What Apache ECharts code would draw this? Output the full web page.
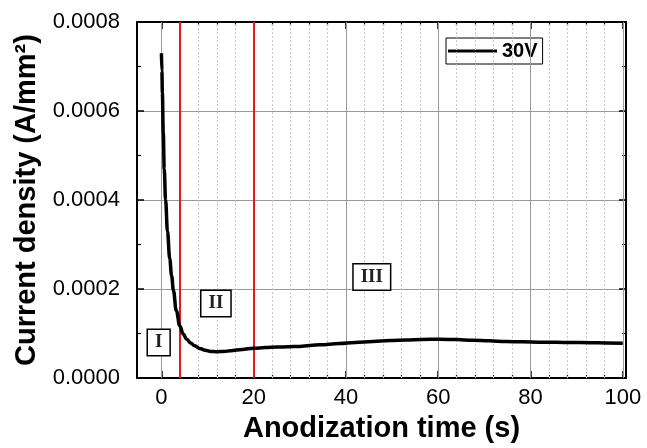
<!DOCTYPE html>
<html>
<head>
<meta charset="utf-8">
<script src="https://cdn.jsdelivr.net/npm/echarts@6/dist/echarts.min.js"></script>
<style>
html,body{margin:0;padding:0;background:#fff;}
#chart{width:647px;height:448px;}
</style>
</head>
<body>
<div id="chart"></div>
<script>
// ---- data ----
const seriesName = '30V';
const timeS = [0, 0.1, 0.2, 0.4, 0.6, 0.9, 1.3, 1.8, 2.2, 2.6, 3.2, 4.0, 4.7, 5.5, 6.3, 7.2, 8.3, 9.5, 10.7, 12, 13.5, 15, 17.5, 20, 22.5, 25, 27.5, 30, 34.3, 38.6, 42, 45.8, 49.5, 53, 56.5, 60.3, 64, 67.5, 71, 74.7, 78.3, 81.9, 85.5, 89.1, 92.7, 96.4, 100];
const currentDensity = [0.00073, 0.00069, 0.00064, 0.00055, 0.00047, 0.00040, 0.00033, 0.000268, 0.00023, 0.000197, 0.000152, 0.000117, 0.000099, 0.000087, 0.000079, 0.0000725, 0.0000665, 0.0000625, 0.0000600, 0.0000592, 0.0000598, 0.0000615, 0.0000645, 0.0000670, 0.0000685, 0.0000697, 0.0000705, 0.0000712, 0.0000748, 0.0000778, 0.0000800, 0.0000822, 0.0000842, 0.0000858, 0.0000868, 0.0000874, 0.0000865, 0.0000852, 0.0000838, 0.0000823, 0.0000815, 0.0000808, 0.0000803, 0.0000800, 0.0000795, 0.0000788, 0.0000782];
const xMajorTicks = [0, 20, 40, 60, 80, 100];
const xMinorTicks = [4, 8, 12, 16, 24, 28, 32, 36, 44, 48, 52, 56, 64, 68, 72, 76, 84, 88, 92, 96];
const regionBoundaries = [4, 20];
const regionLabels = ['I', 'II', 'III'];
const regionLabelX = [-0.6, 11.8, 45.6];
const regionLabelY = [0.0000800, 0.0001676, 0.000227];
const xTitle = 'Anodization time (s)';
const yTitle = 'Current density (A/mm\u00B2)';

// ---- chart ----
const chart = echarts.init(document.getElementById('chart'), null, {renderer: 'canvas'});
const FONT = 'Liberation Sans, Arial, sans-serif';
const gridBox = {left: 137, right: 21, top: 22, bottom: 69};

const xCommon = {
  type: 'value', min: -5.3, max: 100.7,
  splitLine: {show: false}
};

const option = {
  backgroundColor: '#fff',
  animation: false,
  grid: [
    Object.assign({}, gridBox, {show: false}),
    Object.assign({}, gridBox, {show: false})
  ],
  legend: {
    data: [seriesName],
    left: 446, top: 38,
    icon: 'rect', itemWidth: 49, itemHeight: 3,
    borderColor: '#000', borderWidth: 1,
    padding: [3, 5, 3, 2],
    textStyle: {fontFamily: FONT, fontWeight: 'bold', fontSize: 20, color: '#000'},
    itemStyle: {color: '#000'}
  },
  xAxis: [
    Object.assign({}, xCommon, {
      gridIndex: 0, position: 'bottom',
      name: xTitle, nameLocation: 'middle', nameGap: 33,
      nameTextStyle: {fontFamily: FONT, fontWeight: 'bold', fontSize: 29, color: '#000'},
      axisLine: {show: true, onZero: false, lineStyle: {color: '#000', width: 2}},
      axisTick: {show: true, inside: true, length: 7, customValues: xMajorTicks, lineStyle: {color: '#000', width: 1.5}},
      axisLabel: {show: true, margin: 9, customValues: xMajorTicks, fontFamily: FONT, fontSize: 22, color: '#000'}
    }),
    Object.assign({}, xCommon, {
      gridIndex: 0, position: 'top',
      axisLine: {show: true, onZero: false, lineStyle: {color: '#000', width: 2}},
      axisTick: {show: true, inside: true, length: 7, customValues: xMajorTicks, lineStyle: {color: '#000', width: 1.5}},
      axisLabel: {show: false}
    }),
    Object.assign({}, xCommon, {
      gridIndex: 1, position: 'bottom',
      axisLine: {show: false, onZero: false},
      axisTick: {show: true, inside: true, length: 4, customValues: xMinorTicks, lineStyle: {color: '#000', width: 1.2}},
      axisLabel: {show: false}
    }),
    Object.assign({}, xCommon, {
      gridIndex: 1, position: 'top',
      axisLine: {show: false, onZero: false},
      axisTick: {show: true, inside: true, length: 4, customValues: xMinorTicks, lineStyle: {color: '#000', width: 1.2}},
      axisLabel: {show: false}
    })
  ],
  yAxis: [
    {
      type: 'value', gridIndex: 0, position: 'left',
      min: 0, max: 0.0008, interval: 0.0002,
      name: yTitle, nameLocation: 'middle', nameGap: 96, nameRotate: 90,
      nameTextStyle: {fontFamily: FONT, fontWeight: 'bold', fontSize: 29, color: '#000'},
      axisLine: {show: true, onZero: false, lineStyle: {color: '#000', width: 2}},
      axisTick: {show: true, inside: true, length: 7, lineStyle: {color: '#000', width: 1.5}},
      minorTick: {show: true, splitNumber: 2, length: 4, lineStyle: {color: '#000', width: 1.2}},
      axisLabel: {margin: 17, fontFamily: FONT, fontSize: 22, color: '#000', formatter: v => v.toFixed(4)},
      splitLine: {show: true, lineStyle: {color: '#9a9a9a', width: 1}}
    },
    {
      type: 'value', gridIndex: 0, position: 'right',
      min: 0, max: 0.0008, interval: 0.0002,
      axisLine: {show: true, onZero: false, lineStyle: {color: '#000', width: 2}},
      axisTick: {show: true, inside: true, length: 7, lineStyle: {color: '#000', width: 1.5}},
      minorTick: {show: true, splitNumber: 2, length: 4, lineStyle: {color: '#000', width: 1.2}},
      axisLabel: {show: false},
      splitLine: {show: false}
    },
    {
      type: 'value', gridIndex: 1, min: 0, max: 0.0008, show: false
    }
  ],
  series: [
    {
      // vertical grid lines
      type: 'line', xAxisIndex: 0, yAxisIndex: 0, data: [], z: 1, silent: true,
      markLine: {
        silent: true, symbol: 'none', label: {show: false}, animation: false,
        data: xMajorTicks.map(v => ({xAxis: v, lineStyle: {color: '#9a9a9a', width: 1, type: 'solid'}}))
          .concat(xMinorTicks.map(v => ({xAxis: v, lineStyle: {color: '#c4c4c4', width: 1, type: [2, 2]}})))
      }
    },
    {
      // region boundaries
      type: 'line', xAxisIndex: 0, yAxisIndex: 0, data: [], z: 3, silent: true,
      markLine: {
        silent: true, symbol: 'none', label: {show: false}, animation: false,
        lineStyle: {color: '#e41a1a', width: 2, type: 'solid'},
        data: regionBoundaries.map(v => ({xAxis: v}))
      }
    },
    {
      name: seriesName,
      type: 'line', xAxisIndex: 0, yAxisIndex: 0, z: 5,
      data: timeS.map((t, i) => [t, currentDensity[i]]),
      showSymbol: false, symbol: 'none',
      smooth: 0.4, smoothMonotone: 'x',
      lineStyle: {color: '#000', width: 3.5},
      itemStyle: {color: '#000'}
    },
    {
      type: 'scatter', xAxisIndex: 0, yAxisIndex: 0, z: 6, silent: true,
      symbolSize: 0,
      itemStyle: {opacity: 1, color: '#000'},
      data: regionLabels.map((s, i) => [regionLabelX[i], regionLabelY[i], s]),
      label: {
        show: true, position: 'inside',
        formatter: p => p.data[2],
        fontFamily: 'Liberation Serif, Times New Roman, serif',
        fontSize: 19, fontWeight: 'bold', color: '#222',
        backgroundColor: '#fff', borderColor: '#000', borderWidth: 1.5,
        padding: [4, 7, 2, 7]
      }
    }
  ]
};
chart.setOption(option);
</script>
</body>
</html>
